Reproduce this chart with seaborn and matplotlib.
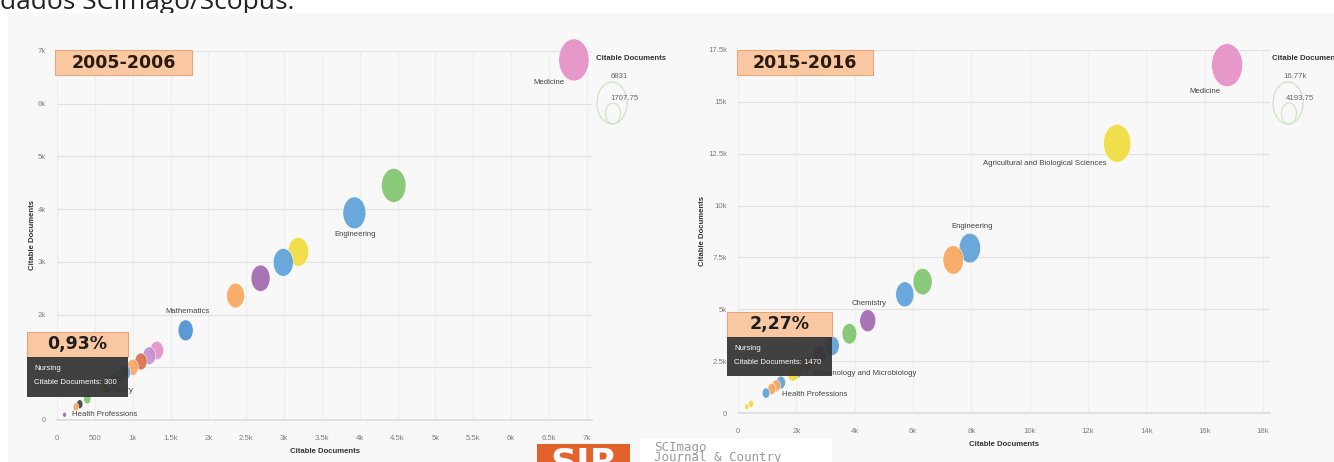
import numpy as np
import pandas as pd
import matplotlib
matplotlib.use("Agg")
import matplotlib.pyplot as plt
import seaborn as sns
from matplotlib.path import Path
from matplotlib.patches import Rectangle, Ellipse

# ---------------- DATEN ----------------
# 2005-2006 (x = y = Größe = Citable Documents)
cats_2006 = ["Medicine", "Biochemistry, Genetics and Molecular Biology", "Engineering",
             "Agricultural and Biological Sciences", "Physics and Astronomy", "Chemistry",
             "Computer Science", "Mathematics", "Immunology and Microbiology",
             "Materials Science", "Earth and Planetary Sciences", "Environmental Science",
             "Pharmacology", "Neuroscience", "Dentistry", "Social Sciences",
             "Veterinary", "Nursing", "Psychology", "Health Professions"]
docs_2006 = [6831, 4450, 3930, 3190, 2990, 2690, 2360, 1700, 1320,
             1220, 1110, 1000, 900, 820, 750, 620, 400, 300, 250, 100]
colors_2006 = ["#e48ec6", "#7dc46b", "#5b9fd9", "#f0dc3a", "#5b9fd9", "#a066ae",
               "#f8a55e", "#4a90d0", "#e48ec6", "#c58fd0", "#d7704a", "#f8a55e",
               "#5b9fd9", "#7dc46b", "#a066ae", "#f0dc3a", "#7dc46b", "#3c3c3c",
               "#f8a55e", "#a066ae"]

# 2015-2016
cats_2016 = ["Medicine", "Agricultural and Biological Sciences", "Engineering",
             "Biochemistry, Genetics and Molecular Biology", "Physics and Astronomy",
             "Computer Science", "Chemistry", "Environmental Science", "Materials Science",
             "Earth and Planetary Sciences", "Immunology and Microbiology", "Mathematics",
             "Pharmacology", "Nursing", "Neuroscience", "Social Sciences",
             "Health Professions", "Dentistry", "Veterinary"]
docs_2016 = [16770, 13000, 7950, 7380, 6330, 5720, 4450, 3820, 3240,
             2800, 2350, 2000, 1880, 1470, 1310, 1160, 960, 450, 300]
colors_2016 = ["#e48ec6", "#f0dc3a", "#5b9fd9", "#f8a55e", "#7dc46b", "#5b9fd9",
               "#a066ae", "#7dc46b", "#5b9fd9", "#a066ae", "#f8a55e", "#7dc46b",
               "#f0dc3a", "#5b9fd9", "#f8a55e", "#f8a55e", "#5b9fd9", "#f0dc3a",
               "#f0dc3a"]

xticks_2006 = [0, 500, 1000, 1500, 2000, 2500, 3000, 3500, 4000, 4500, 5000, 5500, 6000, 6500, 7000]
xlabels_2006 = ["0", "500", "1k", "1.5k", "2k", "2.5k", "3k", "3.5k", "4k", "4.5k",
                "5k", "5.5k", "6k", "6.5k", "7k"]
yticks_2006 = [0, 1000, 2000, 3000, 4000, 5000, 6000, 7000]
ylabels_2006 = ["0", "1k", "2k", "3k", "4k", "5k", "6k", "7k"]

xticks_2016 = [0, 2000, 4000, 6000, 8000, 10000, 12000, 14000, 16000, 18000]
xlabels_2016 = ["0", "2k", "4k", "6k", "8k", "10k", "12k", "14k", "16k", "18k"]
yticks_2016 = [0, 2500, 5000, 7500, 10000, 12500, 15000, 17500]
ylabels_2016 = ["0", "2.5k", "5k", "7.5k", "10k", "12.5k", "15k", "17.5k"]

# ---------------- STIL ----------------
W, H = 1334, 462
sns.set_theme(style="white")
plt.rcParams['font.family'] = ['Liberation Sans', 'DejaVu Sans']
BG = "#f8f8f8"
FS = 5.6

# Ellipsen-Marker (Screenshot ist horizontal gestaucht)
circ = Path.unit_circle()
ell_marker = Path(circ.vertices * np.array([0.72, 1.0]), circ.codes)

fig = plt.figure(figsize=(W / 100, H / 100), dpi=100)
fig.patch.set_facecolor("white")


def px(x, y):
    # Pixel -> Figure-Koordinaten
    return x / W, 1 - y / H


# Grauer Hintergrund des Screenshots
fig.add_artist(Rectangle(px(8, 462), (W - 8) / W, (462 - 13) / H, transform=fig.transFigure,
                         facecolor=BG, edgecolor="none", zorder=1))
fig.text(0.0, 1 - 9 / H, "dados SCImago/Scopus.", fontsize=19, family="Open Sans",
         color="#222222", va="baseline", ha="left", zorder=0.5)


def make_axes(x0, x1, y0, y1):
    l, b = px(x0, y1)
    ax = fig.add_axes([l, b, (x1 - x0) / W, (y1 - y0) / H])
    ax.set_facecolor("none")
    ax.set_zorder(2)
    return ax


def draw_panel(ax, cats, docs, colors, xlim, ylim, xt, xl, yt, yl, smax):
    df = pd.DataFrame({"cat": cats, "docs": docs})
    pal = dict(zip(cats, colors))
    sns.scatterplot(data=df, x="docs", y="docs", hue="cat", size="docs", palette=pal,
                    sizes=(0, smax), size_norm=(0, max(docs)), marker=ell_marker,
                    alpha=0.9, edgecolor="white", linewidth=0.4, legend=False,
                    ax=ax, clip_on=False, zorder=3)
    ax.set_xlim(*xlim)
    ax.set_ylim(*ylim)
    ax.set_xticks(xt)
    ax.set_xticklabels(xl)
    ax.set_yticks(yt)
    ax.set_yticklabels(yl)
    ax.tick_params(axis="both", length=0, labelsize=FS, labelcolor="#808080")
    ax.tick_params(axis="x", pad=11)
    ax.tick_params(axis="y", pad=8)
    ax.grid(axis="y", color="#e2e2e2", linewidth=0.9)
    ax.grid(axis="x", color="#eeeeee", linewidth=0.8)
    for s in ["top", "right", "left"]:
        ax.spines[s].set_visible(False)
    ax.spines["bottom"].set_color("#dddddd")
    ax.set_xlabel("Citable Documents", fontsize=FS, fontweight="bold", color="#333333", labelpad=4)
    ax.set_ylabel("Citable Documents", fontsize=FS, fontweight="bold", color="#333333", labelpad=1)


def label(ax, text, v, dx, dy, ha="center"):
    ax.annotate(text, xy=(v, v), xytext=(dx, -dy), textcoords="offset pixels",
                ha=ha, va="center", fontsize=FS, color="#444444", annotation_clip=False,
                zorder=4)


# ---------------- LINKS: 2005-2006 ----------------
ax1 = make_axes(57, 592, 51, 420)
draw_panel(ax1, cats_2006, docs_2006, colors_2006, (0, 7070), (0, 7000),
           xticks_2006, xlabels_2006, yticks_2006, ylabels_2006, 914)
d06 = dict(zip(cats_2006, docs_2006))
label(ax1, "Medicine", d06["Medicine"], -25, 23)
label(ax1, "Engineering", d06["Engineering"], 1, 22)
label(ax1, "Mathematics", d06["Mathematics"], 2, -19)
label(ax1, "Dentistry", d06["Dentistry"], 4, 10)
label(ax1, "Health Professions", d06["Health Professions"], 7, 0, ha="left")

# ---------------- RECHTS: 2015-2016 ----------------
ax2 = make_axes(738, 1270, 50, 413)
draw_panel(ax2, cats_2016, docs_2016, colors_2016, (0, 18240), (0, 17500),
           xticks_2016, xlabels_2016, yticks_2016, ylabels_2016, 960)
d16 = dict(zip(cats_2016, docs_2016))
label(ax2, "Medicine", d16["Medicine"], -22, 26)
label(ax2, "Agricultural and Biological Sciences", d16["Agricultural and Biological Sciences"], -11, 20, ha="right")
label(ax2, "Engineering", d16["Engineering"], 2, -22)
label(ax2, "Chemistry", d16["Chemistry"], 1, -17)
label(ax2, "Immunology and Microbiology", d16["Immunology and Microbiology"], 110, 9, ha="right")
label(ax2, "Health Professions", d16["Health Professions"], 16, 1, ha="left")


# ---------------- OVERLAYS ----------------
def box(x0, y0, x1, y1, fc, ec="none", alpha=1.0, z=5):
    fig.add_artist(Rectangle(px(x0, y1), (x1 - x0) / W, (y1 - y0) / H, transform=fig.transFigure,
                             facecolor=fc, edgecolor=ec, linewidth=0.8, alpha=alpha, zorder=z))


def ftext(x, y, s, z=6, **kw):
    fig.text(*px(x, y), s, zorder=z, **kw)


# Jahres-Boxen
for (x0, x1, yr) in [(55, 192, "2005-2006"), (737, 873, "2015-2016")]:
    box(x0, 50, x1, 75, "#f9c8a2", "#e7a57a")
    ftext((x0 + x1) / 2, 63, yr, ha="center", va="center", fontsize=12.5,
          fontweight="bold", family="DejaVu Sans", color="#2a1a10")

# Prozent + Tooltip
for (x0, x1, y0, y1, y2, pct, n) in [(27, 128, 332, 357, 397, "0,93%", "300"),
                                     (727, 832, 312, 337, 376, "2,27%", "1470")]:
    box(x0, y0, x1, y1, "#f9c8a2", "#e7a57a")
    ftext((x0 + x1) / 2, (y0 + y1) / 2, pct, ha="center", va="center", fontsize=12.5,
          fontweight="bold", family="DejaVu Sans", color="#1e1e1e")
    box(x0, y1, x1, y2, "#333333", alpha=0.93)
    ftext(x0 + 7, y1 + 11, "Nursing", ha="left", va="center", fontsize=FS, color="white")
    ftext(x0 + 7, y1 + 26, "Citable Documents: " + n, ha="left", va="center", fontsize=FS,
          color="white")

# Größen-Legende
for (tx, big, small, cx) in [(596, "6831", "1707.75", 612), (1272, "16.77k", "4193.75", 1288)]:
    ftext(tx, 59, "Citable Documents", ha="left", va="center", fontsize=FS,
          fontweight="bold", color="#333333")
    fig.add_artist(Ellipse(px(cx, 103), 30 / W, 42 / H, transform=fig.transFigure,
                           facecolor="none", edgecolor="#cfe3c8", linewidth=0.9, zorder=5))
    fig.add_artist(Ellipse(px(cx + 1, 113.5), 15 / W, 21 / H, transform=fig.transFigure,
                           facecolor="none", edgecolor="#cfe3c8", linewidth=0.9, zorder=5))
    ftext(cx + 7, 76, big, ha="center", va="center", fontsize=FS, color="#666666")
    ftext(cx + 12, 98, small, ha="center", va="center", fontsize=FS, color="#666666")

# SJR Logo
box(537, 444, 630, 470, "#e3622b", z=7)
ftext(584, 474, "SJR", ha="center", va="baseline", fontsize=26, fontweight="bold",
      family="DejaVu Sans", color="white", z=8)
box(640, 439, 832, 470, "white", z=7)
ftext(654, 441, "SCImago\nJournal & Country\nRank", ha="left", va="top", fontsize=9,
      family="DejaVu Sans Mono", color="#9a9a9a", linespacing=0.68, z=8)

fig.savefig("out.png", dpi=100, facecolor="white")
